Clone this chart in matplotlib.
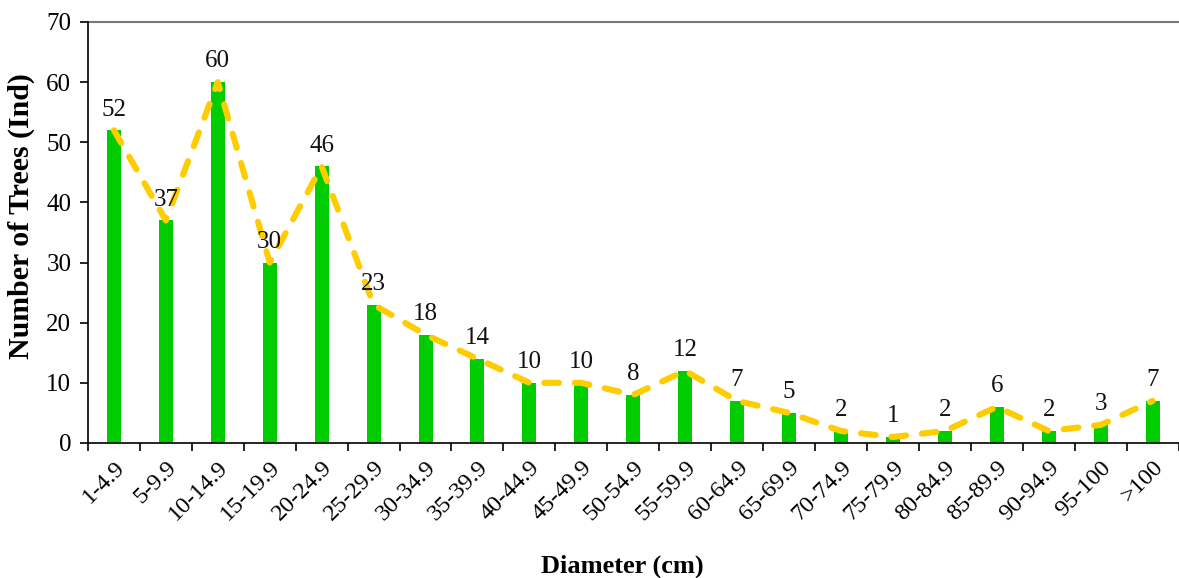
import matplotlib.pyplot as plt
import numpy as np

# diameter classes and tree counts
classes = ["1-4.9", "5-9.9", "10-14.9", "15-19.9", "20-24.9", "25-29.9",
           "30-34.9", "35-39.9", "40-44.9", "45-49.9", "50-54.9", "55-59.9",
           "60-64.9", "65-69.9", "70-74.9", "75-79.9", "80-84.9", "85-89.9",
           "90-94.9", "95-100", ">100"]
trees = [52, 37, 60, 30, 46, 23, 18, 14, 10, 10, 8, 12,
         7, 5, 2, 1, 2, 6, 2, 3, 7]

plt.rcParams["font.family"] = ["Liberation Serif", "DejaVu Serif"]

fig = plt.figure(figsize=(11.79, 5.78), dpi=100)
ax = fig.add_axes([0.0746, 0.2336, 0.925, 0.7284])

x = np.arange(len(classes))
ax.bar(x, trees, width=0.27, color="#00CC00", zorder=2)
ax.plot(x, trees, color="#FFCC00", lw=4.4, ls=(0, (2.4, 2.6)),
        dash_capstyle="round", solid_capstyle="round", zorder=3)

for xi, v in zip(x, trees):
    ax.annotate(str(v), (xi, v), xytext=(0, 7), textcoords="offset points",
                ha="center", va="bottom", fontsize=18, color="#111111")

ax.axhline(70, color="#777777", lw=1.5, zorder=1, clip_on=False)

ax.set_xlim(-0.5, len(classes) - 0.5)
ax.set_ylim(0, 70)
ax.set_yticks(range(0, 71, 10))
ax.set_xticks(x)
ax.set_xticklabels(classes, rotation=45, ha="right", rotation_mode="anchor",
                   fontsize=17.5)
ax.set_xticks(np.arange(-0.5, len(classes), 1), minor=True)
ax.tick_params(axis="x", which="major", length=0, pad=10)
ax.tick_params(axis="x", which="minor", length=6, width=1.2)
ax.tick_params(axis="y", length=6, width=1.2, labelsize=18, pad=6)

for side in ("top", "right"):
    ax.spines[side].set_visible(False)
for side in ("left", "bottom"):
    ax.spines[side].set_linewidth(1.2)

ax.set_ylabel("Number of Trees (Ind)", fontsize=21.5, fontweight="bold")
ax.yaxis.set_label_coords(-0.049, 0.54)
ax.set_xlabel("Diameter (cm)", fontsize=19, fontweight="bold")
ax.xaxis.set_label_coords(0.49, -0.265)

fig.savefig("out.png", dpi=100)
